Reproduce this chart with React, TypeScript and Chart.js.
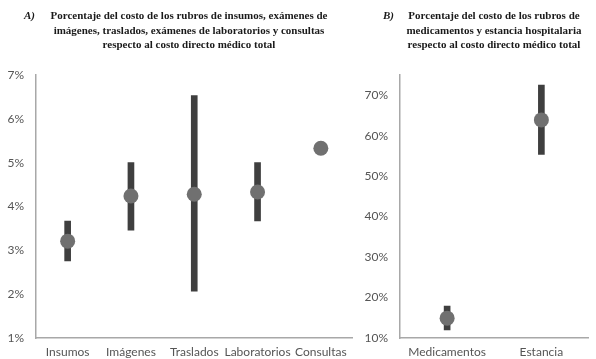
import React, { useEffect, useRef } from "react";
import { Chart, registerables } from "chart.js";

Chart.register(...registerables);

// Panel A: supplies, imaging, transport, lab exams, consultations (% of total direct medical cost)
const categoriesA = ["Insumos", "Imágenes", "Traslados", "Laboratorios", "Consultas"];
const meansA = [3.21, 4.24, 4.28, 4.33, 5.33];
const lowsA: (number | null)[] = [2.76, 3.46, 2.07, 3.67, null];
const highsA: (number | null)[] = [3.67, 5.0, 6.53, 5.0, null];

// Panel B: medication and hospital stay
const categoriesB = ["Medicamentos", "Estancia"];
const meansB = [14.9, 63.9];
const lowsB: (number | null)[] = [12.0, 55.4];
const highsB: (number | null)[] = [17.9, 72.5];

const titleLinesA = [
  "Porcentaje del costo de los rubros de insumos, exámenes de",
  "imágenes, traslados, exámenes de laboratorios y consultas",
  "respecto al costo directo médico total",
];
const titleLinesB = [
  "Porcentaje del costo de los rubros de",
  "medicamentos y estancia hospitalaria",
  "respecto al costo directo médico total",
];

const TICK_FONT = { family: "Lato, 'Open Sans', sans-serif", size: 12 };
const TICK_COLOR = "#555555";
const AXIS_COLOR = "#a8a8a8";
const BAR_COLOR = "#3f3f3f";
const POINT_COLOR = "#707070";

type PanelProps = {
  labels: string[];
  means: number[];
  lows: (number | null)[];
  highs: (number | null)[];
  min: number;
  max: number;
  step: number;
  yWidth: number;
  padRight: number;
  width: number;
};

function RangePanel(p: PanelProps) {
  const ref = useRef<HTMLCanvasElement | null>(null);
  useEffect(() => {
    if (!ref.current) return;
    const ranges = p.lows.map((lo, i) => (lo == null || p.highs[i] == null ? null : [lo, p.highs[i] as number]));
    const chart = new Chart(ref.current, {
      type: "bar",
      data: {
        labels: p.labels,
        datasets: [
          {
            type: "line",
            data: p.means,
            showLine: false,
            pointRadius: 7.5,
            pointHoverRadius: 7.5,
            pointBackgroundColor: POINT_COLOR,
            pointBorderWidth: 0,
            borderColor: POINT_COLOR,
            order: 0,
          } as any,
          {
            type: "bar",
            data: ranges as any,
            backgroundColor: BAR_COLOR,
            barThickness: 6,
            borderWidth: 0,
            order: 1,
          },
        ],
      },
      options: {
        animation: false,
        responsive: false,
        maintainAspectRatio: false,
        layout: { padding: { left: 0, top: 75, right: p.padRight, bottom: 0 } },
        plugins: { legend: { display: false }, tooltip: { enabled: false }, title: { display: false } },
        scales: {
          x: {
            offset: true,
            grid: { display: false, drawTicks: false },
            border: { display: true, color: AXIS_COLOR, width: 1.5 },
            ticks: { font: TICK_FONT, color: TICK_COLOR, padding: 7, maxRotation: 0, autoSkip: false },
            afterFit: (s: any) => {
              s.height = 21;
            },
          },
          y: {
            min: p.min,
            max: p.max,
            grid: { display: false, drawTicks: false },
            border: { display: true, color: AXIS_COLOR, width: 1.5 },
            ticks: {
              stepSize: p.step,
              includeBounds: false,
              font: TICK_FONT,
              color: TICK_COLOR,
              padding: 12,
              callback: (v: any) => `${v}%`,
            },
            afterFit: (s: any) => {
              s.width = p.yWidth;
            },
          },
        },
      },
    });
    return () => chart.destroy();
  }, []);
  return <canvas ref={ref} width={p.width} height={359} style={{ display: "block", width: p.width, height: 359 }} />;
}

const titleFont: React.CSSProperties = {
  fontFamily: "'Liberation Serif', 'Times New Roman', serif",
  fontWeight: "bold",
  fontSize: 11,
  lineHeight: "14.5px",
  color: "#1a1a1a",
  position: "absolute",
  whiteSpace: "nowrap",
  textAlign: "center",
};

export default function App() {
  return (
    <div style={{ position: "fixed", left: 0, top: 0, width: 596, height: 359, background: "#fff", overflow: "hidden" }}>
      <div style={{ position: "absolute", left: 0, top: 0 }}>
        <RangePanel
          labels={categoriesA}
          means={meansA}
          lows={lowsA}
          highs={highsA}
          min={1}
          max={7}
          step={1}
          yWidth={36}
          padRight={5}
          width={360}
        />
      </div>
      <div style={{ position: "absolute", left: 360, top: 0 }}>
        <RangePanel
          labels={categoriesB}
          means={meansB}
          lows={lowsB}
          highs={highsB}
          min={10}
          max={75}
          step={10}
          yWidth={40}
          padRight={0}
          width={236}
        />
      </div>
      <div style={{ ...titleFont, left: 24, top: 8, fontStyle: "italic" }}>A)</div>
      <div style={{ ...titleFont, left: 189, top: 8, transform: "translateX(-50%)" }}>
        {titleLinesA.map((t) => (
          <div key={t}>{t}</div>
        ))}
      </div>
      <div style={{ ...titleFont, left: 383, top: 8, fontStyle: "italic" }}>B)</div>
      <div style={{ ...titleFont, left: 494, top: 8, transform: "translateX(-50%)" }}>
        {titleLinesB.map((t) => (
          <div key={t}>{t}</div>
        ))}
      </div>
    </div>
  );
}
